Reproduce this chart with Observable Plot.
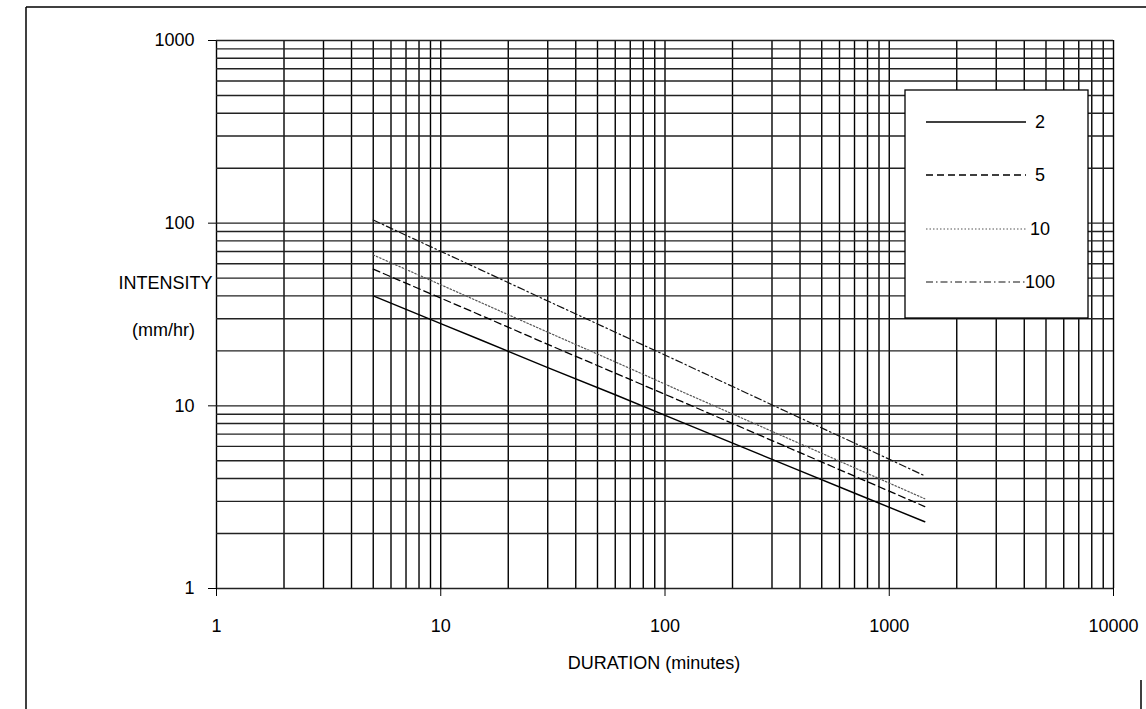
<!DOCTYPE html>
<html>
<head>
<meta charset="utf-8">
<script src="https://cdn.jsdelivr.net/npm/d3@7"></script>
<script src="https://cdn.jsdelivr.net/npm/@observablehq/plot@0.6"></script>
<style>
  html, body { margin: 0; padding: 0; background: #fff; }
  #chart svg { display: block; }
</style>
</head>
<body>
<div id="chart"></div>
<script>
// Durations (minutes) and intensities (mm/hr)
const durations = [5, 10, 15, 30, 60, 120, 360, 720, 1440];
const rp2   = [40, 28.2, 23.0, 16.2, 11.5, 8.1, 4.65, 3.28, 2.32];
const rp5   = [56, 38.9, 31.4, 21.7, 15.1, 10.5, 5.86, 4.06, 2.81];
const rp10  = [67, 46.0, 36.9, 25.3, 17.4, 11.9, 6.57, 4.51, 3.1];
const rp100 = [104, 70.1, 55.7, 37.5, 25.3, 17.1, 9.12, 6.15, 4.14];

const seriesNames = ["2", "5", "10", "100"];
const seriesValues = [rp2, rp5, rp10, rp100];

const xTicks = [1, 10, 100, 1000, 10000];
const yTicks = [1, 10, 100, 1000];
const xGrid = [1,2,3,4,5,6,7,8,9,10,20,30,40,50,60,70,80,90,100,200,300,400,500,600,700,800,900,1000,2000,3000,4000,5000,6000,7000,8000,9000,10000];
const yGrid = [1,2,3,4,5,6,7,8,9,10,20,30,40,50,60,70,80,90,100,200,300,400,500,600,700,800,900,1000];

const xLabel = "DURATION (minutes)";
const yLabel1 = "INTENSITY";
const yLabel2 = "(mm/hr)";

const dashes = { "2": null, "5": "7,4", "10": "1.5,2", "100": "7,3,1.5,3" };
const strokes = { "2": "#000", "5": "#000", "10": "#555", "100": "#111" };
const widths = { "2": 1.4, "5": 1.3, "10": 1.2, "100": 1.2 };

const rows = [];
seriesNames.forEach((name, i) => {
  durations.forEach((d, j) => rows.push({ series: name, duration: d, intensity: seriesValues[i][j] }));
});

const lineMarks = seriesNames.map(name =>
  Plot.line(rows.filter(r => r.series === name), {
    x: "duration", y: "intensity",
    stroke: strokes[name], strokeWidth: widths[name],
    strokeDasharray: dashes[name] || undefined
  })
);

const fontFam = "'Liberation Sans', Arial, Helvetica, sans-serif";

const chart = Plot.plot({
  width: 1146,
  height: 709,
  marginLeft: 216,
  marginRight: 33,
  marginTop: 40,
  marginBottom: 121,
  style: { fontFamily: fontFam, fontSize: "18px", color: "#000", background: "#fff" },
  x: { type: "log", domain: [1, 10000] },
  y: { type: "log", domain: [1, 1000] },
  marks: [
    Plot.ruleX(xGrid, { stroke: "#000", strokeWidth: 1.4 }),
    Plot.ruleY(yGrid, { stroke: "#222", strokeWidth: 1.4 }),
    Plot.axisX({ ticks: xTicks, tickSize: 8, tickPadding: 23, tickFormat: d => String(d), label: null, fontSize: 18 }),
    Plot.axisY({ ticks: yTicks, tickSize: 8, tickPadding: 14, tickFormat: d => String(d), label: null, fontSize: 18 }),
    ...lineMarks,
    Plot.text([xLabel], { frameAnchor: "bottom", dx: -11, dy: 80, textAnchor: "middle", fontSize: 18 }),
    Plot.text([yLabel1], { frameAnchor: "left", dx: -51, dy: -31, textAnchor: "middle", fontSize: 18 }),
    Plot.text([yLabel2], { frameAnchor: "left", dx: -53, dy: 16, textAnchor: "middle", fontSize: 18 })
  ]
});

document.getElementById("chart").appendChild(chart);

// Legend and outer frame
const svg = d3.select(chart);
const lg = svg.append("g").attr("class", "legend");
lg.append("rect").attr("x", 905).attr("y", 90).attr("width", 183).attr("height", 228)
  .attr("fill", "#fff").attr("stroke", "#000").attr("stroke-width", 1.3);
const legendY = [122, 175, 229, 282];
seriesNames.forEach((name, i) => {
  const g = lg.append("g");
  g.append("line").attr("x1", 926).attr("x2", 1026).attr("y1", legendY[i]).attr("y2", legendY[i])
    .attr("stroke", strokes[name]).attr("stroke-width", widths[name])
    .attr("stroke-dasharray", dashes[name]);
  g.append("text").attr("x", 1040).attr("y", legendY[i]).attr("dy", "0.35em")
    .attr("font-family", fontFam).attr("font-size", 18).attr("fill", "#000").text(name);
});
const fr = svg.append("g").attr("stroke", "#000").attr("stroke-width", 1.5);
fr.append("line").attr("x1", 26).attr("x2", 1146).attr("y1", 7).attr("y2", 7);
fr.append("line").attr("x1", 26).attr("x2", 26).attr("y1", 7).attr("y2", 709);
fr.append("line").attr("x1", 1141).attr("x2", 1141).attr("y1", 680).attr("y2", 709);
</script>
</body>
</html>
